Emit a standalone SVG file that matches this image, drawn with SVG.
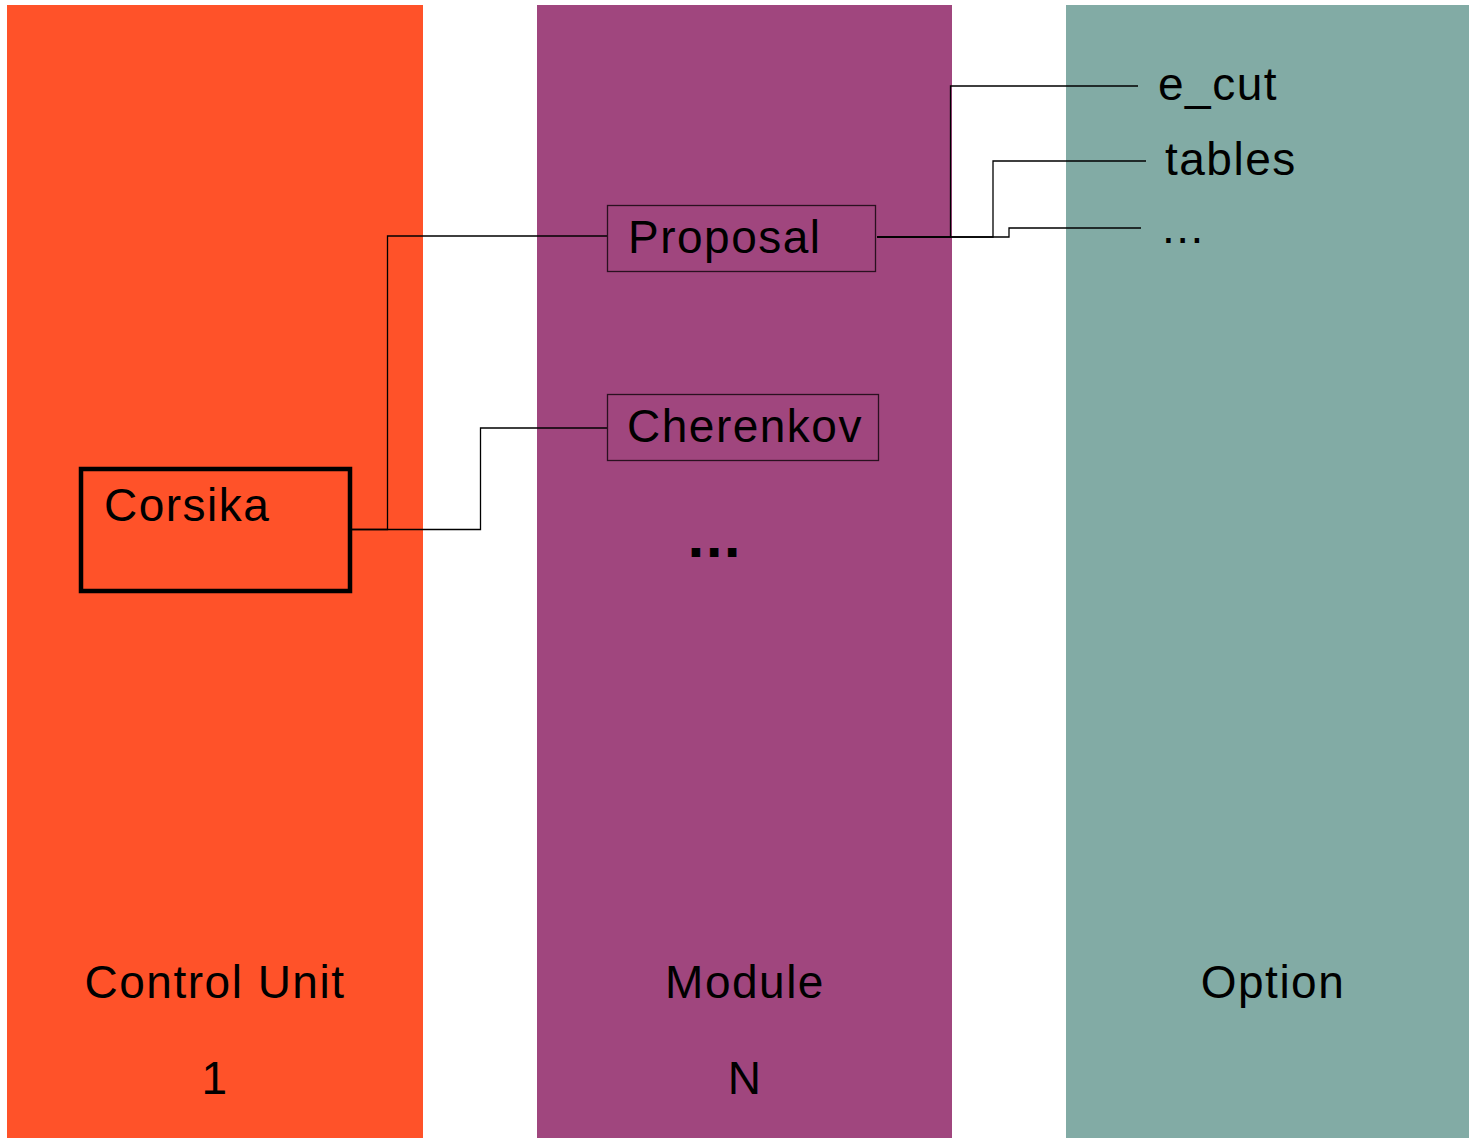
<svg xmlns="http://www.w3.org/2000/svg" width="1469" height="1138" viewBox="0 0 1469 1138">
<style>
.t{font-family:"Liberation Sans",Arial,sans-serif;font-size:46px;letter-spacing:1.5px;fill:#000}
.c{text-anchor:middle}
.conn{fill:none;stroke:#000;stroke-width:1.3}
.mod{fill:none;stroke:#2a1020;stroke-width:1.3}
</style>
<rect width="1469" height="1138" fill="#fff"/>
<g id="col-control">
<rect x="7" y="5" width="416" height="1133" fill="#FF5229"/>
<text class="t c" x="215" y="998">Control Unit</text>
<text class="t c" x="215" y="1094">1</text>
</g>
<g id="col-module">
<rect x="537" y="5" width="415" height="1133" fill="#A0467E"/>
<text class="t c" x="745" y="998">Module</text>
<text class="t c" x="745" y="1094">N</text>
<text x="714" y="557" style="font-family:'DejaVu Sans',sans-serif;font-weight:bold;font-size:48px;text-anchor:middle">...</text>
</g>
<g id="col-option">
<rect x="1066" y="5" width="403" height="1133" fill="#82ABA5"/>
<text class="t c" x="1273" y="998">Option</text>
</g>
<g id="connectors">
<polyline class="conn" points="352,529.5 387.5,529.5 387.5,236 607,236"/>
<polyline class="conn" points="352,529.5 480.5,529.5 480.5,428 607,428"/>
<polyline class="conn" points="877,237 950.5,237 950.5,86 1138,86"/>
<polyline class="conn" points="877,237 993,237 993,161 1146,161"/>
<polyline class="conn" points="877,237 1009,237 1009,228 1141,228"/>
</g>
<g id="corsika">
<rect x="81" y="469" width="269" height="122" fill="none" stroke="#000" stroke-width="4.5"/>
<text class="t" x="104" y="521">Corsika</text>
</g>
<g id="proposal">
<rect x="607.5" y="205.5" width="268" height="66" class="mod"/>
<text class="t" x="628" y="253">Proposal</text>
</g>
<g id="cherenkov">
<rect x="607.5" y="394.5" width="271" height="66" class="mod"/>
<text class="t" x="627" y="442">Cherenkov</text>
</g>
<g id="opt-ecut"><text class="t" x="1158" y="100">e_cut</text></g>
<g id="opt-tables"><text class="t" x="1165" y="175">tables</text></g>
<g id="opt-more"><text class="t" x="1162" y="243">...</text></g>
</svg>
